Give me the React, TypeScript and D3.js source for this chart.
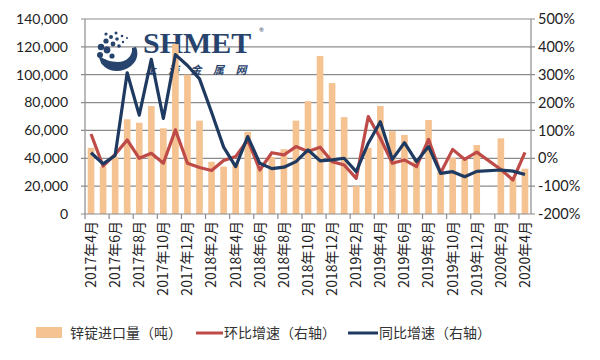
import React from 'react';
import * as d3 from 'd3';

const months = [
  '2017年4月', '2017年5月', '2017年6月', '2017年7月', '2017年8月', '2017年9月',
  '2017年10月', '2017年11月', '2017年12月', '2018年1月', '2018年2月', '2018年3月',
  '2018年4月', '2018年5月', '2018年6月', '2018年7月', '2018年8月', '2018年9月',
  '2018年10月', '2018年11月', '2018年12月', '2019年1月', '2019年2月', '2019年3月',
  '2019年4月', '2019年5月', '2019年6月', '2019年7月', '2019年8月', '2019年9月',
  '2019年10月', '2019年11月', '2019年12月', '2020年1月', '2020年2月', '2020年3月',
  '2020年4月',
];

// 锌锭进口量（吨）, 2020年1月 not reported
const imports: (number | null)[] = [
  47500, 34000, 41000, 68000, 65500, 77500, 61500, 122000, 100000, 67000, 37500, 34000,
  36000, 59000, 34500, 41000, 46500, 67000, 81000, 113500, 94000, 69500, 20000, 47500,
  77500, 59500, 56700, 38500, 67500, 30500, 40500, 38800, 49500, null, 54300, 25500,
  32500,
];

// 环比增速 (%)
const mom: (number | null)[] = [
  87, -28, 14, 66, 0, 18, -18, 102, -18, -33, -44, -8,
  6, 66, -42, 20, 12, 42, 24, 40, -12, -24, -72, 150,
  72, -18, -6, -30, 68, -53, 32, -4, 22, null, -40, -78,
  21,
];

// 同比增速 (%)
const yoy: (number | null)[] = [
  20, -20, 10, 307, 155, 355, 143, 372, 333, 285, 165, 40,
  -30, 78, -18, -37, -32, -12, 30, -9, -6, 0, -48, 54,
  131, -4, 56, -12, 42, -54, -48, -66, -47, null, -42, -46,
  -58,
];

const leftTicks = [0, 20000, 40000, 60000, 80000, 100000, 120000, 140000];
const rightTicks = [-200, -100, 0, 100, 200, 300, 400, 500];

const W = 600;
const H = 360;
const plot = { left: 85, right: 531, top: 19, bottom: 214 };

const barColor = '#F5C291';
const momColor = '#BE4B48';
const yoyColor = '#1F3A60';
const gridColor = '#8C8C8C';
const numFont = "Lato, 'Noto Sans', sans-serif";
const cjkFont = "'Noto Sans CJK SC', sans-serif";

// watermark dots of the logo
const logoDots = [
  [101, 47, 3.2], [106, 41, 2.6], [100, 55, 3], [107, 50, 3.4], [113, 44, 2.4],
  [111, 37, 2], [117, 39, 1.8], [104, 62, 2.8], [112, 56, 2.6], [119, 46, 1.8],
  [116, 33, 1.5], [122, 36, 1.3], [123, 42, 1.2], [106, 34, 1.6], [127, 38, 1],
];
const logoChars = ['上', '海', '金', '属', '网'];

export default function App() {
  const x = d3.scaleBand<number>()
    .domain(d3.range(months.length))
    .range([plot.left, plot.right])
    .paddingInner(0)
    .paddingOuter(0);
  const bw = x.bandwidth();
  const cx = (i: number) => (x(i) as number) + bw / 2;

  const yL = d3.scaleLinear().domain([0, 140000]).range([plot.bottom, plot.top]);
  const yR = d3.scaleLinear().domain([-200, 500]).range([plot.bottom, plot.top]);

  const line = d3.line<[number, number]>()
    .x(d => cx(d[0]))
    .y(d => yR(d[1]));
  const pts = (arr: (number | null)[]) =>
    arr.map((v, i) => [i, v] as [number, number | null])
      .filter(d => d[1] !== null) as [number, number][];

  const barW = bw * 0.55;
  const fmt = d3.format(',');

  return (
    <svg width={W} height={H} style={{ position: 'absolute', left: 0, top: 0, background: '#fff' }}>
      {/* gridlines */}
      {leftTicks.slice(1).map(t => (
        <line key={t} x1={plot.left - 4} x2={plot.right + 4} y1={yL(t)} y2={yL(t)}
          stroke={gridColor} strokeWidth={1.2} />
      ))}

      {/* watermark logo */}
      <g opacity={0.95}>
        <path d="M 99 56 C 100 70, 118 76, 131 66 C 137 61, 139 54, 136 47 L 132 48 C 133 56, 126 62, 118 62 C 110 62, 104 59, 99 56 Z"
          fill="#1B3A66" />
        {logoDots.map((d, i) => (
          <circle key={i} cx={d[0]} cy={d[1]} r={d[2]} fill="#1B3A66" />
        ))}
        <text x={143} y={53} fontFamily="'Liberation Serif', 'DejaVu Serif', serif" fontWeight="bold"
          fontSize={30} fill="#1B3A66">SHMET</text>
        <text x={259} y={32} fontFamily={numFont} fontSize={6} fill="#1B3A66">®</text>
        {logoChars.map((c, i) => (
          <text key={c} x={151 + i * 22.5} y={74} textAnchor="middle" fontFamily={cjkFont}
            fontWeight="bold" fontSize={11} fontStyle="italic" fill="#1B3A66">{c}</text>
        ))}
      </g>

      {/* bars */}
      {imports.map((v, i) => v === null ? null : (
        <rect key={i} x={cx(i) - barW / 2} y={yL(v)} width={barW} height={plot.bottom - yL(v)}
          fill={barColor} />
      ))}

      {/* axes */}
      <line x1={plot.left} x2={plot.left} y1={plot.top} y2={plot.bottom} stroke={gridColor} strokeWidth={1.2} />
      <line x1={plot.right} x2={plot.right} y1={plot.top} y2={plot.bottom} stroke={gridColor} strokeWidth={1.2} />
      <line x1={plot.left - 4} x2={plot.right + 4} y1={plot.bottom} y2={plot.bottom} stroke={gridColor} strokeWidth={1.2} />
      {d3.range(0, months.length + 1, 2).map(k => {
        const xx = k < months.length ? (x(k) as number) : plot.right;
        return <line key={k} x1={xx} x2={xx} y1={plot.bottom} y2={plot.bottom + 5} stroke={gridColor} strokeWidth={1.2} />;
      })}

      {/* lines */}
      <path d={line(pts(mom)) || ''} fill="none" stroke={momColor} strokeWidth={3.2} strokeLinejoin="round" />
      <path d={line(pts(yoy)) || ''} fill="none" stroke={yoyColor} strokeWidth={3.2} strokeLinejoin="round" />

      {/* left tick labels */}
      {leftTicks.map(t => (
        <text key={t} x={68} y={yL(t)} dy="0.35em" textAnchor="end" fontFamily={numFont}
          fontSize={14} fill="#222">{fmt(t)}</text>
      ))}
      {/* right tick labels */}
      {rightTicks.map(t => (
        <text key={t} x={538} y={yR(t)} dy="0.35em" fontFamily={numFont} fontSize={14.5}
          fill="#222">{t}%</text>
      ))}

      {/* x labels */}
      {months.map((m, i) => i % 2 !== 0 ? null : (
        <text key={m} transform={`translate(${cx(i)},${plot.bottom + 7}) rotate(-90)`}
          dy="0.35em" textAnchor="end" fontFamily={cjkFont} fontSize={14} fill="#222">{m}</text>
      ))}

      {/* legend */}
      <rect x={36} y={327} width={26} height={11} fill={barColor} />
      <text x={70} y={333} dy="0.35em" fontFamily={cjkFont} fontSize={14} fill="#333">锌锭进口量（吨）</text>
      <line x1={196} x2={223} y1={333} y2={333} stroke={momColor} strokeWidth={3} />
      <text x={224} y={333} dy="0.35em" fontFamily={cjkFont} fontSize={14} fill="#333">环比增速（右轴）</text>
      <line x1={348} x2={378} y1={333} y2={333} stroke={yoyColor} strokeWidth={3} />
      <text x={379} y={333} dy="0.35em" fontFamily={cjkFont} fontSize={14} fill="#333">同比增速（右轴）</text>
    </svg>
  );
}
